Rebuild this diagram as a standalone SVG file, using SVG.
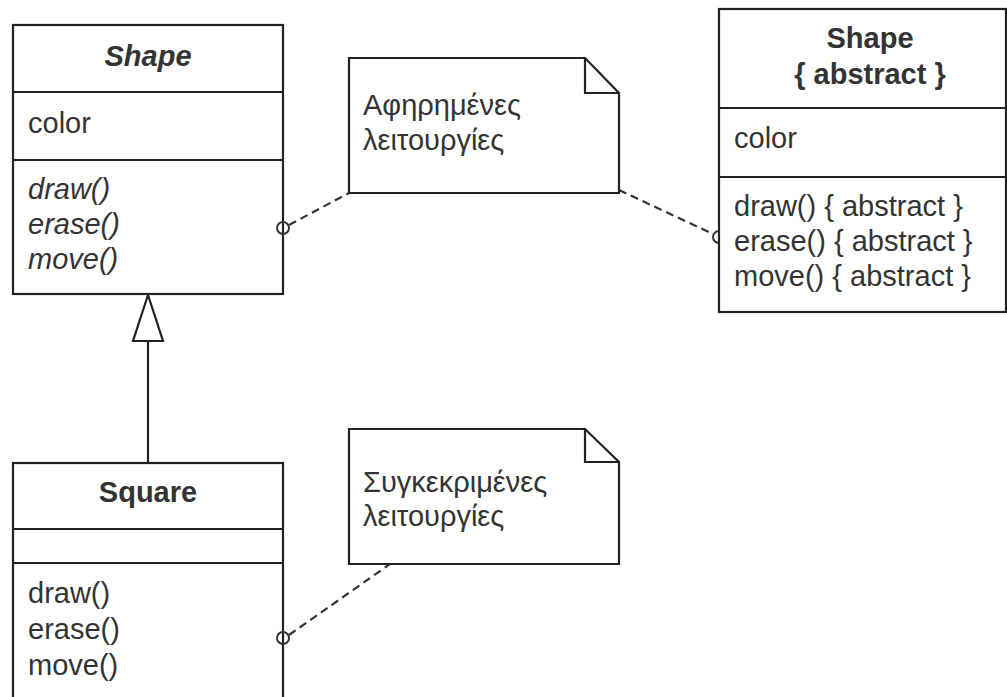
<svg xmlns="http://www.w3.org/2000/svg" width="1007" height="697" viewBox="0 0 1007 697">
<style>
.box{fill:#fff;stroke:#222;stroke-width:2.2}
.ln{stroke:#222;stroke-width:2.2;fill:none}
.dash{stroke:#333;stroke-width:2.2;stroke-dasharray:8 5;fill:none}
.t{font-family:"Liberation Sans",Arial,sans-serif;font-size:29px;fill:#333}
.b{font-weight:bold;text-anchor:middle}
.i{font-style:italic}
.lol{fill:none;stroke:#333;stroke-width:2}
</style>
<rect width="1007" height="697" fill="#fff"/>
<g id="connectors">
<path class="dash" d="M289,225 L349,193"/>
<path class="dash" d="M619,190 L713,234"/>
<path class="dash" d="M289,635 L390,564"/>
<line class="ln" x1="148" y1="341" x2="148" y2="463"/>
<path class="ln" d="M148,295 L133,341 L163,341 Z" fill="#fff"/>
</g>
<g id="shape-left">
<rect class="box" x="13" y="25" width="270" height="269"/>
<line class="ln" x1="13" y1="92" x2="283" y2="92"/>
<line class="ln" x1="13" y1="160" x2="283" y2="160"/>
<text class="t b i" x="148" y="66">Shape</text>
<text class="t" x="28" y="133">color</text>
<text class="t i" x="28" y="199">draw()</text>
<text class="t i" x="28" y="234">erase()</text>
<text class="t i" x="28" y="269">move()</text>
<circle class="lol" cx="283" cy="228" r="6"/>
</g>
<g id="square">
<rect class="box" x="13" y="463" width="270" height="250"/>
<line class="ln" x1="13" y1="529" x2="283" y2="529"/>
<line class="ln" x1="13" y1="563" x2="283" y2="563"/>
<text class="t b" x="148" y="502">Square</text>
<text class="t" x="28" y="603">draw()</text>
<text class="t" x="28" y="639">erase()</text>
<text class="t" x="28" y="675">move()</text>
<circle class="lol" cx="283" cy="638" r="6"/>
</g>
<g id="note-abstract">
<path class="box" d="M349,58 L585,58 L619,93 L619,193 L349,193 Z"/>
<path class="ln" d="M585,58 L585,93 L619,93"/>
<text class="t" x="363" y="115">Αφηρημένες</text>
<text class="t" x="363" y="150">λειτουργίες</text>
</g>
<g id="note-concrete">
<path class="box" d="M349,429 L585,429 L619,462 L619,564 L349,564 Z"/>
<path class="ln" d="M585,429 L585,462 L619,462"/>
<text class="t" x="363" y="492">Συγκεκριμένες</text>
<text class="t" x="363" y="526">λειτουργίες</text>
</g>
<g id="shape-right">
<circle class="lol" cx="719" cy="237" r="6"/>
<rect class="box" x="719" y="9" width="287" height="303"/>
<line class="ln" x1="719" y1="108" x2="1006" y2="108"/>
<line class="ln" x1="719" y1="177" x2="1006" y2="177"/>
<text class="t b" x="870" y="48">Shape</text>
<text class="t b" x="870" y="84">{ abstract }</text>
<text class="t" x="734" y="148">color</text>
<text class="t" x="734" y="216">draw() { abstract }</text>
<text class="t" x="734" y="251">erase() { abstract }</text>
<text class="t" x="734" y="286">move() { abstract }</text>
</g>
</svg>
